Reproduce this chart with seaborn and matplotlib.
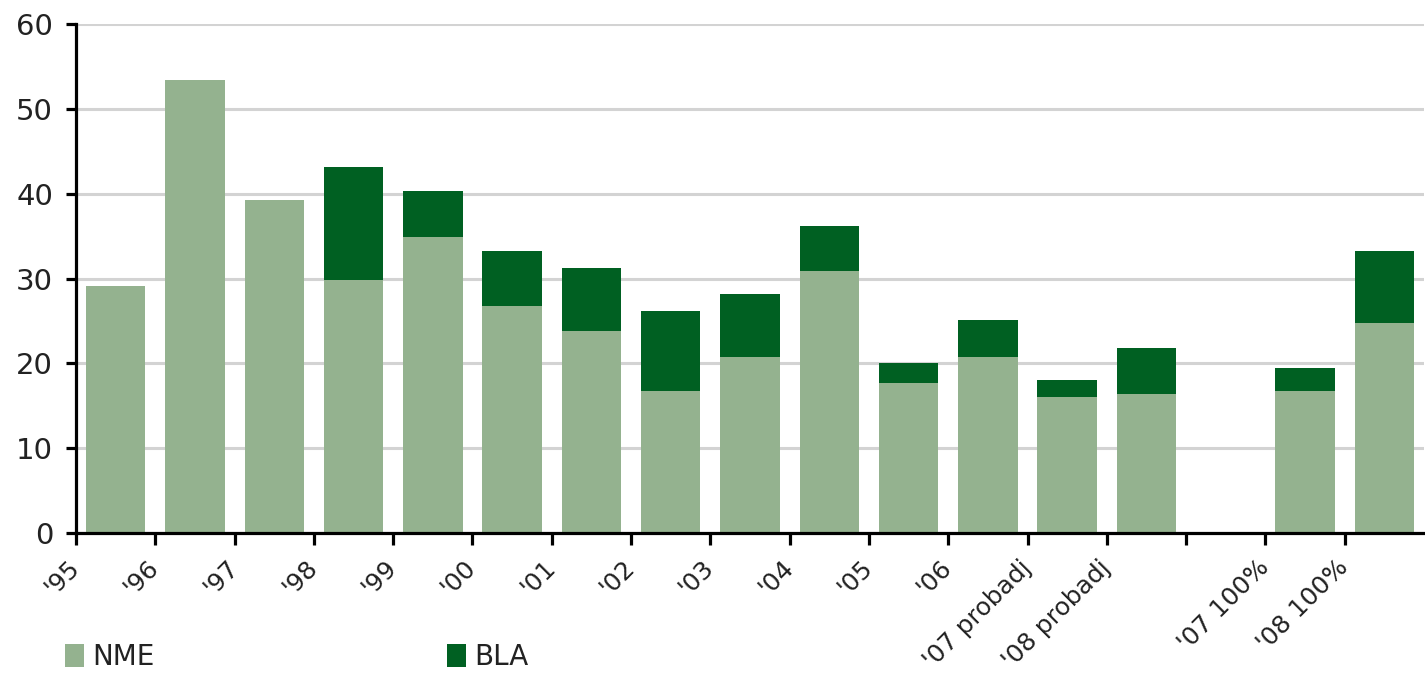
import numpy as np
import pandas as pd
import matplotlib
matplotlib.use("Agg")
import matplotlib.pyplot as plt
import matplotlib.transforms as mtransforms
from matplotlib.patches import Patch
import seaborn as sns

# Category slots (the blank slot separates the two groups)
categories = ["'95", "'96", "'97", "'98", "'99", "'00", "'01", "'02", "'03",
              "'04", "'05", "'06", "'07 probadj", "'08 probadj", " ",
              "'07 100%", "'08 100%"]
nme = [29.1, 53.4, 39.3, 29.8, 34.9, 26.8, 23.8, 16.7, 20.7,
       30.9, 17.7, 20.7, 16.0, 16.4, np.nan, 16.7, 24.8]
bla = [0.0, 0.0, 0.0, 13.4, 5.4, 6.5, 7.45, 9.5, 7.5,
       5.3, 2.3, 4.4, 2.0, 5.4, np.nan, 2.75, 8.5]
y_ticks = [0, 10, 20, 30, 40, 50, 60]

NME_COLOR = "#94B28F"
BLA_COLOR = "#006022"
TEXT_COLOR = "#222222"

df = pd.DataFrame({"cat": categories, "NME": nme, "BLA": bla})
df["total"] = df["NME"] + df["BLA"]
plotted = df.dropna(subset=["NME"])

sns.set_theme(style="white")
plt.rcParams["font.family"] = ["DejaVu Sans"]

fig = plt.figure(figsize=(14.25, 6.74), dpi=100)
ax = fig.add_axes([76 / 1425, 1 - 532.7 / 674, 1348 / 1425, (532.7 - 24.3) / 674])

# Stacked bars: full height in dark green, NME part over it in light green
bar_kw = dict(order=categories, saturation=1, width=0.75, errorbar=None,
              ax=ax, zorder=3, linewidth=0, edgecolor="none")
sns.barplot(data=plotted, x="cat", y="total", color=BLA_COLOR, **bar_kw)
sns.barplot(data=plotted, x="cat", y="NME", color=NME_COLOR, **bar_kw)

ax.set_xlim(-0.5, len(categories) - 0.5)
ax.set_ylim(0, 60)
ax.set_xlabel("")
ax.set_ylabel("")

# Horizontal grid
ax.set_yticks(y_ticks)
ax.set_yticklabels([str(v) for v in y_ticks])
ax.yaxis.grid(True, color="#D3D3D3", linewidth=2.2, zorder=0)
ax.xaxis.grid(False)
ax.set_axisbelow(True)

# Category labels sit at the left boundary of each slot
tick_pos = np.arange(len(categories)) - 0.5
tick_labels = [c.strip() for c in categories]
ax.set_xticks(tick_pos)
ax.set_xticklabels(tick_labels, rotation=45, ha="right", va="center",
                   rotation_mode="anchor")
offset = mtransforms.ScaledTranslation(0.21, 0.07, fig.dpi_scale_trans)
for lab in ax.get_xticklabels():
    lab.set_transform(lab.get_transform() + offset)

for side in ["top", "right"]:
    ax.spines[side].set_visible(False)
for side in ["left", "bottom"]:
    ax.spines[side].set_color("black")
    ax.spines[side].set_linewidth(2.3)
    ax.spines[side].set_zorder(4)

ax.tick_params(axis="x", which="major", direction="out", length=8.5, width=2.3,
               color="black", labelsize=18, labelcolor=TEXT_COLOR, pad=14,
               bottom=True)
ax.tick_params(axis="y", which="major", direction="out", length=7.5, width=2.3,
               color="black", labelsize=21, labelcolor=TEXT_COLOR, pad=9,
               left=True)

# Legend entries spread along the bottom
for x0, label, color in [(0.0455, "NME", NME_COLOR), (0.3135, "BLA", BLA_COLOR)]:
    fig.legend(handles=[Patch(facecolor=color, edgecolor="none")], labels=[label],
               loc="center left", bbox_to_anchor=(x0, 0.025), frameon=False,
               fontsize=20, labelcolor=TEXT_COLOR, handlelength=0.68,
               handleheight=0.85, handletextpad=0.3, borderpad=0, borderaxespad=0)

fig.savefig("out.png", dpi=100, facecolor="white")
